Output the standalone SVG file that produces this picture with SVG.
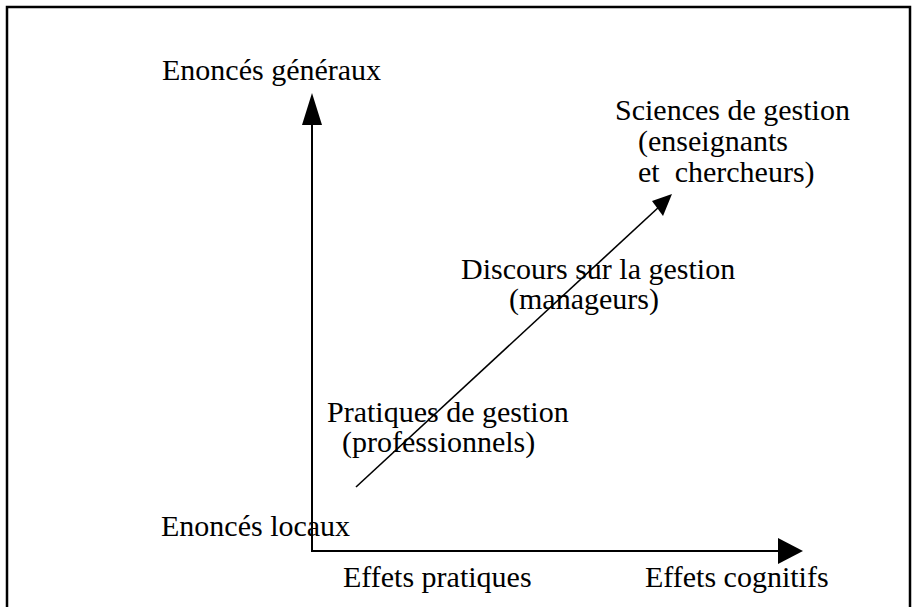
<svg xmlns="http://www.w3.org/2000/svg" width="912" height="607" viewBox="0 0 912 607">
<style>
text{font-family:"Liberation Serif","Times New Roman",serif;font-size:30px;fill:#000}
.ax{stroke:#000;stroke-width:2;fill:none}
.dg{stroke:#000;stroke-width:1.6;fill:none}
.ah{fill:#000;stroke:none}
</style>
<rect x="7" y="7" width="903" height="640" fill="#fff" stroke="#000" stroke-width="2.5"/>
<g id="connectors">
<line class="ax" x1="312" y1="552" x2="312" y2="120"/>
<polygon class="ah" points="312,93 302,125 322,125"/>
<line class="ax" x1="311" y1="551" x2="782" y2="551"/>
<polygon class="ah" points="803,551 778,538 778,564"/>
<line class="dg" x1="356" y1="487" x2="660" y2="206"/>
<polygon class="ah" points="672,194 652,201 663,216"/>
</g>
<g id="enonces-generaux"><text x="162" y="80">Enoncés généraux</text></g>
<g id="enonces-locaux"><text x="161" y="536">Enoncés locaux</text></g>
<g id="effets-pratiques"><text x="343" y="587">Effets pratiques</text></g>
<g id="effets-cognitifs"><text x="645" y="587">Effets cognitifs</text></g>
<g id="sciences"><text x="615" y="120">Sciences de gestion</text><text x="638" y="151">(enseignants</text><text x="638" y="182" xml:space="preserve">et  chercheurs)</text></g>
<g id="discours"><text x="461" y="279">Discours sur la gestion</text><text x="509" y="309">(manageurs)</text></g>
<g id="pratiques"><text x="327" y="422">Pratiques de gestion</text><text x="342" y="452">(professionnels)</text></g>
</svg>
